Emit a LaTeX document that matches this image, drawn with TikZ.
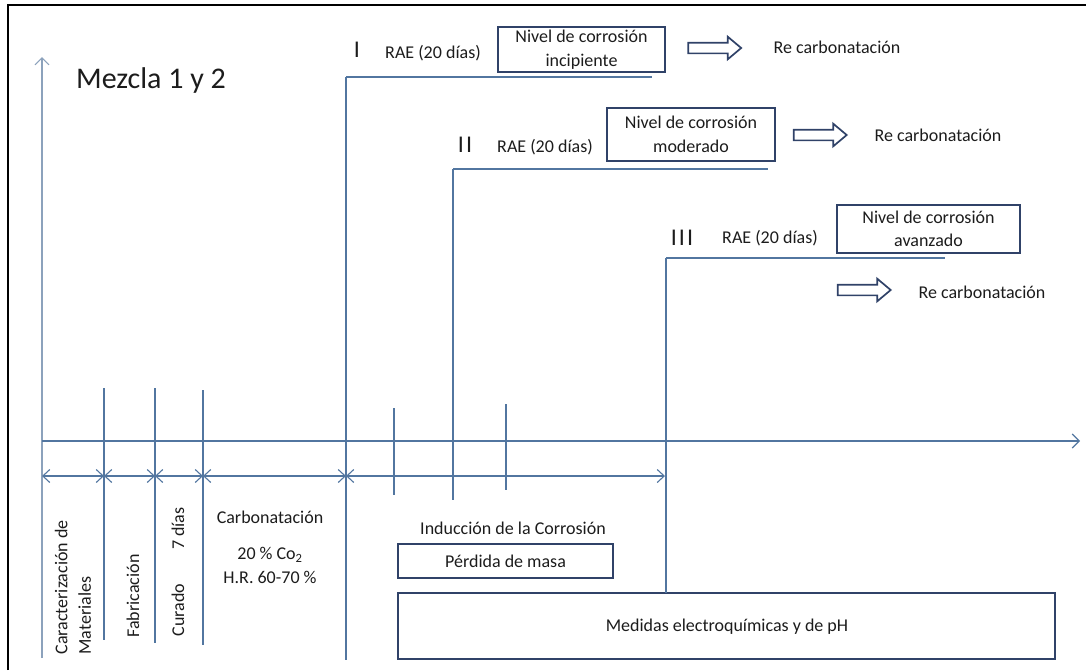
\documentclass[tikz,border=0pt]{standalone}
\usepackage{fontspec}
\setmainfont{Carlito}
\usetikzlibrary{arrows.meta,shapes.arrows}

\definecolor{lineblue}{RGB}{82,118,160}
\definecolor{paleaxis}{RGB}{140,162,188}
\definecolor{boxblue}{RGB}{48,66,104}
\definecolor{inkgray}{RGB}{28,28,28}

\begin{document}
\begin{tikzpicture}[x=1pt,y=-1pt,
  every node/.style={text=inkgray, font=\fontsize{18}{23.5}\selectfont},
  guide/.style={draw=lineblue, line width=1.1pt},
  axis/.style={draw=lineblue, line width=1.1pt, -{Straight Barb[length=7pt,width=14pt]}},
  span/.style={draw=lineblue, line width=1.1pt,
    {Straight Barb[length=7pt,width=13pt]}-{Straight Barb[length=7pt,width=13pt]}},
  stagebox/.style={draw=boxblue, line width=1.6pt, align=center, inner sep=0pt},
  hollow/.style={single arrow, draw=boxblue, line width=1.7pt, fill=white,
    minimum height=53pt, inner sep=4.5pt, single arrow head extend=6pt,
    single arrow tip angle=80, single arrow head indent=0pt},
  roman/.style={font=\fontsize{24}{28}\selectfont},
  vert/.style={rotate=90, anchor=west, align=left}]

\useasboundingbox (0,0) rectangle (1086,670);

% frame (top and left edges)
\draw[black, line width=2pt] (8,670) -- (8,5) -- (1086,5);

% axes
\coordinate (origin) at (42,441);
\coordinate (ytop) at (42,57);
\coordinate (ybot) at (42,658);
\coordinate (xend) at (1080,441);
\draw[axis, draw=paleaxis] (ybot) -- (ytop);
\draw[axis] (origin) -- (xend);

\node[font=\fontsize{30}{34}\selectfont] (title) at (151,80) {Mezcla 1 y 2};

% stage separators
\coordinate (s1t) at (104,388); \coordinate (s1b) at (104,640);
\coordinate (s2t) at (155,388); \coordinate (s2b) at (155,643);
\coordinate (s3t) at (203,390); \coordinate (s3b) at (203,645);
\coordinate (s4t) at (346,77);  \coordinate (s4b) at (346,660);
\coordinate (t1t) at (394,408); \coordinate (t1b) at (394,495);
\coordinate (s5t) at (453,169); \coordinate (s5b) at (453,500);
\coordinate (t2t) at (506,404); \coordinate (t2b) at (506,490);
\coordinate (s6t) at (666,258);
\foreach \a/\b in {s1t/s1b,s2t/s2b,s3t/s3b,s4t/s4b,t1t/t1b,s5t/s5b,t2t/t2b}
  \draw[guide] (\a) -- (\b);

% stage durations
\coordinate (d0) at (42,476);
\coordinate (d1) at (104,476);
\coordinate (d2) at (155,476);
\coordinate (d3) at (203,476);
\coordinate (d4) at (346,476);
\coordinate (d5) at (665,476);
\draw[span] (d0) -- (d1);
\draw[span] (d1) -- (d2);
\draw[span] (d2) -- (d3);
\draw[span] (d3) -- (d4);
\draw[span] (d4) -- (d5);

% stage labels
\node[vert] (caract) at (73,658) {Caracterización de\\Materiales};
\node[vert, anchor=center] (fabr) at (133,596) {Fabricación};
\node[vert, anchor=center] (curado) at (178,572) {Curado\hspace{34pt}7 días};
\node (carb) at (270,517) {Carbonatación};
\node (co2) at (270,555) {20 \% Co\textsubscript{2}};
\node (hr) at (270,577) {H.R. 60-70 \%};
\node (induc) at (513,528) {Inducción  de la Corrosión};
\node[stagebox, minimum width=215pt, minimum height=34pt] (perdida) at (505.5,561) {Pérdida de masa};
\node[stagebox, minimum width=657pt, minimum height=66pt] (medidas) at (726.5,626) {};
\node (medtxt) at (727,627) {Medidas electroquímicas  y de pH};
\coordinate (s6b) at (666,593);
\draw[guide] (s6t) -- (s6b);

% level I
\coordinate (l1a) at (346,77); \coordinate (l1b) at (652,77);
\draw[guide] (l1a) -- (l1b);
\node[roman] (r1) at (357,50) {I};
\node (rae1) at (433,53) {RAE (20 días)};
\node[stagebox, minimum width=167pt, minimum height=45pt] (lvl1) at (581.5,49.5) {Nivel  de corrosión\\incipiente};
\node[hollow] (ar1) at (711.5,48) {};
\node (rc1) at (837,47) {Re carbonatación};

% level II
\coordinate (l2a) at (453,169); \coordinate (l2b) at (768,169);
\draw[guide] (l2a) -- (l2b);
\node[roman] (r2) at (465,145) {I\kern2pt I};
\node (rae2) at (545,147) {RAE (20 días)};
\node[stagebox, minimum width=168pt, minimum height=53pt] (lvl2) at (691,134.5) {Nivel  de corrosión\\moderado};
\node[hollow] (ar2) at (817,135) {};
\node (rc2) at (938,135) {Re carbonatación};

% level III
\coordinate (l3a) at (666,258); \coordinate (l3b) at (945,258);
\draw[guide] (l3a) -- (l3b);
\node[roman] (r3) at (682,238) {I\kern2pt I\kern2pt I};
\node (rae3) at (770,238) {RAE (20 días)};
\node[stagebox, minimum width=183pt, minimum height=48pt] (lvl3) at (928.5,229) {Nivel  de corrosión\\avanzado};
\node[hollow] (ar3) at (861,290) {};
\node (rc3) at (982,292) {Re carbonatación};

\end{tikzpicture}
\end{document}
